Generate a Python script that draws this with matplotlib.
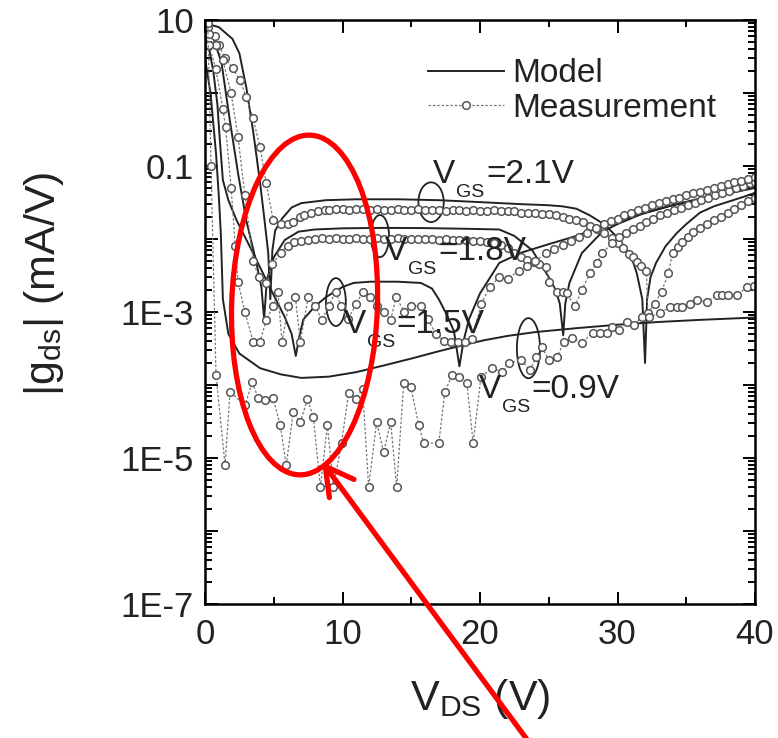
import numpy as np
import matplotlib.pyplot as plt
from matplotlib.patches import Ellipse, FancyArrowPatch
from matplotlib.ticker import LogLocator, FuncFormatter, MultipleLocator

plt.rcParams['font.family'] = ['Liberation Sans', 'DejaVu Sans']
plt.rcParams['mathtext.fontset'] = 'custom'
plt.rcParams['mathtext.rm'] = 'Liberation Sans'

# DATA  (V_DS in V, |g_ds| in mA/V)
# model curves
mod21_v = [0, 1, 2, 2.5, 3.0, 3.5, 4.0, 4.3, 4.6, 4.75, 4.9, 5.1, 5.6, 6.3, 7, 8.8, 11, 14, 17, 20, 23, 25,
           26, 27, 28, 29, 29.5, 30, 30.7, 31.1, 31.4, 31.8, 32.0, 32.15, 32.4, 32.8, 33.5, 34.3, 35, 36, 37,
           38.4, 39.2, 40]
mod21_g = [9, 8, 5.5, 3.5, 1.2, 0.3, 0.06, 0.02, 6.4e-3, 1.5e-3, 7e-3, 0.013, 0.019, 0.027, 0.031, 0.034,
           0.035, 0.035, 0.034, 0.032, 0.030, 0.029, 0.028, 0.026, 0.021, 0.016, 0.013, 0.0105, 7e-3, 5e-3,
           3.4e-3, 1.5e-3, 2e-4, 1.5e-3, 3e-3, 4.7e-3, 8e-3, 0.012, 0.016, 0.023, 0.028, 0.034, 0.038, 0.043]

mod18_v = [0, 0.5, 1.2, 1.8, 2.4, 3.0, 3.7, 4.1, 4.3, 4.5, 5.0, 5.8, 6.8, 8, 10, 13, 16, 19, 21.4, 22.5,
           23.8, 25.0, 25.5, 25.8, 26.05, 26.2, 26.5, 27.4, 28.9, 30, 32, 34, 36, 38, 40]
mod18_g = [7.5, 6.5, 2.6, 0.43, 0.08, 0.018, 5.1e-3, 2.2e-3, 8e-4, 2.8e-3, 5.6e-3, 9.7e-3, 0.0126, 0.0135,
           0.014, 0.0142, 0.0141, 0.0138, 0.0135, 0.011, 7e-3, 3e-3, 2e-3, 1.3e-3, 4.8e-4, 1.3e-3, 2.5e-3,
           6.4e-3, 0.0126, 0.016, 0.023, 0.029, 0.035, 0.042, 0.05]

mod15_v = [0, 0.3, 0.6, 0.9, 1.1, 1.3, 1.7, 2.3, 3.5, 4.7, 5.8, 6.3, 6.6, 6.9, 7.15, 8, 8.8, 10, 10.8, 12,
           14, 15.7, 16.5, 17, 17.6, 18.1, 18.5, 18.8, 19.2, 20, 20.7, 21.4, 23, 25, 27, 28.7, 31, 34, 37, 40]
mod15_g = [6, 4, 2, 0.7, 0.2, 0.064, 0.034, 0.018, 6.4e-3, 2.2e-3, 8.5e-4, 5e-4, 2.5e-4, 5e-4, 7.9e-4,
           1.2e-3, 1.6e-3, 2.2e-3, 2.5e-3, 2.6e-3, 2.6e-3, 2.5e-3, 2.1e-3, 1.5e-3, 9e-4, 5.5e-4, 1.8e-4,
           4e-4, 8e-4, 1.8e-3, 2.9e-3, 4.7e-3, 6.5e-3, 8.5e-3, 0.011, 0.0145, 0.02, 0.029, 0.04, 0.057]

mod09_v = [0, 0.4, 0.8, 1.0, 1.15, 1.3, 1.7, 2.5, 4, 5.5, 7, 9, 11, 13, 15, 17, 19, 20.3, 22, 24, 27, 30,
           33, 36, 40]
mod09_g = [3, 1, 0.15, 0.04, 0.012, 1.5e-3, 5e-4, 2.7e-4, 1.7e-4, 1.4e-4, 1.25e-4, 1.3e-4, 1.5e-4, 1.85e-4,
           2.3e-4, 2.9e-4, 3.6e-4, 4.1e-4, 4.7e-4, 5.3e-4, 6e-4, 6.7e-4, 7.3e-4, 7.8e-4, 8.4e-4]

# measurement curves
meas21_v = [0.2, 0.7, 1.0, 1.46, 2.0, 2.55, 3.0, 3.5, 4.0, 4.45, 4.96, 5.5, 6.0, 6.4, 6.9, 7.2, 7.7, 8.2,
            8.7, 9.0, 9.5, 10.0, 10.5, 11.0, 11.5, 12.0, 12.5, 13.0, 13.5, 14.0, 14.5, 15.0, 15.5, 16.0,
            16.5, 17.0, 17.5, 18.0, 18.5, 19.0, 19.5, 20.0, 20.5, 21.0, 21.5, 22.0, 22.5, 23.0, 23.5, 24.0,
            24.5, 25.0, 25.5, 26.0, 26.5, 27.0, 27.5, 28.0, 28.5, 29.0, 29.6, 30.0, 30.4, 30.8, 31.1, 31.4,
            31.7, 32.1, 32.2, 32.7, 33.2, 33.7, 34.0, 34.4, 34.7, 35.1, 35.5, 36.0, 36.5, 37.0, 37.5, 38.0,
            38.5, 39.0, 39.5, 40.0]
meas21_g = [8, 6, 4.5, 3.0, 2.2, 1.5, 0.88, 0.45, 0.18, 0.059, 0.018, 0.016, 0.016, 0.017, 0.02, 0.021,
            0.023, 0.024, 0.025, 0.025, 0.026, 0.026, 0.025, 0.026, 0.026, 0.025, 0.026, 0.025, 0.025,
            0.026, 0.025, 0.025, 0.026, 0.025, 0.025, 0.025, 0.024, 0.025, 0.025, 0.024, 0.025, 0.024,
            0.024, 0.025, 0.024, 0.024, 0.024, 0.023, 0.023, 0.023, 0.022, 0.022, 0.021, 0.020, 0.019,
            0.018, 0.017, 0.015, 0.0135, 0.012, 0.0103, 8.8e-3, 7.5e-3, 6.3e-3, 5.6e-3, 4.8e-3, 4.2e-3,
            3.7e-3, 9.6e-4, 1.3e-3, 1.9e-3, 3.4e-3, 6.4e-3, 7.8e-3, 9e-3, 0.0108, 0.0125, 0.014, 0.016,
            0.018, 0.020, 0.023, 0.026, 0.029, 0.033, 0.037]

meas18_v = [0.3, 0.8, 1.3, 1.9, 2.4, 2.9, 3.5, 3.9, 4.4, 4.9, 5.5, 6.0, 6.5, 7.0, 7.5, 8.0, 8.5, 9.0, 9.5,
            10.0, 10.5, 11.0, 11.5, 12.0, 12.5, 13.0, 13.5, 14.0, 14.5, 15.0, 15.5, 16.0, 16.5, 17.0, 17.5,
            18.0, 18.5, 19.0, 19.5, 20.0, 20.5, 21.0, 21.5, 22.0, 22.5, 23.0, 23.4, 23.9, 24.3, 24.8, 25.0,
            25.6, 26.0, 26.3, 26.9, 27.4, 28.0, 28.5, 28.9, 29.6, 30.1, 30.6, 31.1, 31.6, 32.1, 32.6, 33.1,
            33.6, 34.1, 34.6, 35.1, 35.6, 36.1, 36.6, 37.1, 37.6, 38.1, 38.6, 39.1, 39.6, 40.0]
meas18_g = [6.5, 4.5, 2.8, 1.0, 0.25, 0.04, 5e-3, 3e-3, 2.5e-3, 4.5e-3, 6.5e-3, 8e-3, 9e-3, 9.5e-3, 0.0098,
            0.01, 0.0102, 0.01, 0.0103, 0.0101, 0.01, 0.0102, 0.0101, 0.01, 0.0103, 0.0101, 0.01, 0.0102,
            0.01, 0.0099, 0.01, 0.0101, 0.0099, 0.0098, 0.0099, 0.0097, 0.0098, 0.0096, 0.0095, 0.0093,
            0.009, 0.0088, 8.3e-3, 7.5e-3, 6.5e-3, 5.6e-3, 5.1e-3, 4.8e-3, 4.5e-3, 4.1e-3, 2.6e-3, 1.9e-3,
            1.9e-3, 1.8e-3, 1.2e-3, 2e-3, 3.4e-3, 4.7e-3, 6.4e-3, 8.8e-3, 0.0105, 0.012, 0.0135, 0.015,
            0.017, 0.019, 0.021, 0.023, 0.025, 0.027, 0.029, 0.031, 0.034, 0.037, 0.040, 0.043, 0.046,
            0.050, 0.054, 0.058, 0.061]

meas15_v = [0.3, 0.8, 1.3, 1.5, 1.9, 2.2, 2.4, 2.9, 3.5, 4.0, 4.45, 4.96, 5.3, 5.6, 6.06, 6.57, 6.93, 7.5,
            8.0, 8.5, 9.0, 9.5, 9.9, 10.4, 11.0, 11.5, 12.0, 12.5, 13.0, 13.5, 13.9, 14.5, 15.0, 15.7, 16.2,
            16.8, 17.4, 17.9, 18.4, 18.9, 19.4, 20.1, 20.7, 21.4, 22.0, 22.8, 23.4, 24.0, 24.8, 25.4, 26.0,
            26.6, 27.2, 27.8, 28.4, 29.0, 29.5, 30.0, 30.5, 31.0, 31.5, 32.0, 32.5, 33.0, 33.5, 34.0, 34.5,
            35.0, 35.5, 36.0, 36.5, 37.0, 37.5, 38.0, 38.5, 39.0, 39.5, 40.0]
meas15_g = [4.5, 2.1, 0.6, 0.34, 0.05, 8e-3, 2.6e-3, 1.0e-3, 3.9e-4, 3.9e-4, 7.8e-4, 1.2e-3, 1.9e-3,
            3.9e-4, 1.2e-3, 1.6e-3, 3.9e-4, 1.6e-3, 1.2e-3, 7.8e-4, 1.2e-3, 1.9e-3, 1.2e-3, 8e-4, 1.3e-3,
            1.9e-3, 1.6e-3, 1.2e-3, 1.0e-3, 7.8e-4, 1.6e-3, 1.0e-3, 1.2e-3, 1.2e-3, 8e-4, 5e-4, 4e-4,
            3.9e-4, 3.9e-4, 3.9e-4, 4.2e-4, 1.3e-3, 2.2e-3, 3.0e-3, 2.8e-3, 3.7e-3, 4.2e-3, 5.0e-3, 6.4e-3,
            7.3e-3, 8.3e-3, 9.5e-3, 0.0105, 0.012, 0.014, 0.016, 0.0175, 0.019, 0.021, 0.023, 0.025,
            0.027, 0.029, 0.031, 0.033, 0.035, 0.037, 0.040, 0.042, 0.044, 0.047, 0.050, 0.053, 0.056,
            0.060, 0.063, 0.067, 0.070]

meas09_v = [0.2, 0.44, 0.8, 1.46, 1.82, 2.92, 3.43, 3.87, 4.38, 4.96, 5.47, 5.91, 6.42, 6.93, 7.45, 7.88,
            8.39, 8.9, 9.34, 9.93, 10.44, 10.95, 11.46, 11.9, 12.48, 12.99, 13.5, 13.94, 14.45, 14.96, 15.55,
            15.9, 17.0, 17.45, 17.96, 18.5, 19.05, 19.5, 20.07, 20.9, 21.6, 22.1, 23.0, 23.6, 24.1, 24.5,
            25.0, 25.6, 26.1, 26.7, 27.4, 28.2, 28.7, 29.2, 29.6, 30.1, 30.7, 31.2, 31.8, 32.3, 33.1, 33.8,
            34.3, 34.7, 35.3, 35.8, 36.5, 37.2, 37.6, 38.0, 38.7, 39.4, 39.9]
meas09_g = [9, 0.1, 1.37e-4, 8e-6, 8e-5, 5.3e-5, 1.1e-4, 6.6e-5, 6.2e-5, 6.6e-5, 2.8e-5, 8e-6, 4.3e-5,
            3.1e-5, 6.4e-5, 3.6e-5, 4e-6, 2.8e-5, 4e-6, 1.6e-5, 7.8e-5, 6.4e-5, 8.8e-5, 4e-6, 3.1e-5,
            1.2e-5, 3.1e-5, 4e-6, 1.06e-4, 9.4e-5, 2.8e-5, 1.6e-5, 1.6e-5, 8e-5, 1.37e-4, 1.3e-4, 1.06e-4,
            1.6e-5, 1.3e-4, 1.7e-4, 1.5e-4, 2e-4, 2.2e-4, 1.6e-4, 2.4e-4, 3.3e-4, 2.2e-4, 2.4e-4, 3.9e-4,
            4.4e-4, 3.8e-4, 5.2e-4, 5.2e-4, 5.2e-4, 6.2e-4, 5.7e-4, 7.3e-4, 6.7e-4, 8.6e-4, 8.6e-4, 9.7e-4,
            1.17e-3, 1.17e-3, 1.17e-3, 1.3e-3, 1.46e-3, 1.38e-3, 1.7e-3, 1.7e-3, 1.7e-3, 1.7e-3, 2.2e-3,
            2.3e-3]

vgs_labels = ['=2.1V', '=1.8V', '=1.5V', '=0.9V']
# label anchor (V_DS, g) for each V_GS text
label_v = [16.6, 13.1, 10.1, 19.9]
label_g = [0.058, 5.2e-3, 5.2e-4, 6.6e-5]

# FIGURE
fig = plt.figure(figsize=(7.78, 7.38), dpi=100)
ax = fig.add_axes([0.2635, 0.1816, 0.707, 0.7913])

line_kw = dict(color='#222222', lw=1.4)
meas_kw = dict(color='#777777', lw=0.9, ls=(0, (2, 1.5)), marker='o', ms=5.5,
               mfc='white', mec='#555555', mew=1.1)

ax.plot(mod21_v, mod21_g, **line_kw, label='Model')
ax.plot(mod18_v, mod18_g, **line_kw)
ax.plot(mod15_v, mod15_g, **line_kw)
ax.plot(mod09_v, mod09_g, **line_kw)

ax.plot(meas21_v, meas21_g, **meas_kw, label='Measurement')
ax.plot(meas18_v, meas18_g, **meas_kw)
ax.plot(meas15_v, meas15_g, **meas_kw)
ax.plot(meas09_v, meas09_g, **meas_kw)

ax.set_yscale('log')
ax.set_xlim(0, 40)
ax.set_ylim(1e-7, 10)

# TICKS
ax.xaxis.set_major_locator(MultipleLocator(10))
ax.xaxis.set_minor_locator(MultipleLocator(5))
ax.yaxis.set_major_locator(LogLocator(base=10, numticks=20))
ax.yaxis.set_minor_locator(LogLocator(base=10, subs=np.arange(2, 10), numticks=20))


def ylab(val, pos):
    e = int(round(np.log10(val)))
    if e % 2 == 0:
        return ''
    if e == 1:
        return '10'
    if e == -1:
        return '0.1'
    return '1E%d' % e


ax.yaxis.set_major_formatter(FuncFormatter(ylab))
ax.tick_params(which='both', direction='in', top=True, right=True, labelsize=25, width=1.4,
               labelcolor='#222222')
ax.tick_params(which='major', length=9)
ax.tick_params(axis='y', which='major', pad=8)
ax.tick_params(axis='x', which='major', pad=10)
ax.tick_params(which='minor', length=5)
for s in ax.spines.values():
    s.set_linewidth(1.8)

ax.set_xlabel(r'$\mathrm{V_{DS}}$ (V)', fontsize=31, color='#222222')
ax.xaxis.set_label_coords(0.5, -0.125)
ax.set_ylabel(r'$\mathrm{|g_{ds}|}$ (mA/V)', fontsize=31, color='#222222')
ax.yaxis.set_label_coords(-0.252, 0.548)

ax.legend(loc='upper left', bbox_to_anchor=(0.35, 0.986), frameon=False, fontsize=24,
          handlelength=2.3, handletextpad=0.25, labelspacing=0.1, numpoints=1,
          labelcolor='#222222')

# V_GS LABELS  (V, subscript GS dropped below the baseline, then the value)
for txt, lv, lg in zip(vgs_labels, label_v, label_g):
    ax.annotate('V', (lv, lg), xytext=(0, 0), textcoords='offset points', fontsize=24,
                va='baseline', ha='left', color='#222222')
    ax.annotate('GS', (lv, lg), xytext=(16.5, -10), textcoords='offset points', fontsize=14,
                va='baseline', ha='left', color='#222222')
    ax.annotate(txt, (lv, lg), xytext=(38, 0), textcoords='offset points', fontsize=24,
                va='baseline', ha='left', color='#222222')

# small ellipses that mark each curve
small_ell = [(0.411, 0.688, 0.046, 0.068), (0.318, 0.630, 0.033, 0.072),
             (0.238, 0.517, 0.036, 0.082), (0.588, 0.438, 0.042, 0.103)]
for cx, cy, w, h in small_ell:
    ax.add_patch(Ellipse((cx, cy), w, h, transform=ax.transAxes, fill=False, ec='#222222', lw=1.3))

# RED ANNOTATION
ax.add_patch(Ellipse((0.181, 0.512), 0.265, 0.582, angle=-2, transform=ax.transAxes, fill=False,
                     ec='red', lw=3.8, zorder=5))
arrow = FancyArrowPatch((0.683, -0.01), (0.414, 0.374), transform=fig.transFigure,
                        arrowstyle='->,head_length=0.9,head_width=0.5', mutation_scale=22,
                        color='red', lw=3.8, zorder=6, shrinkA=0, shrinkB=0)
fig.add_artist(arrow)

fig.savefig('out.png', dpi=100)
